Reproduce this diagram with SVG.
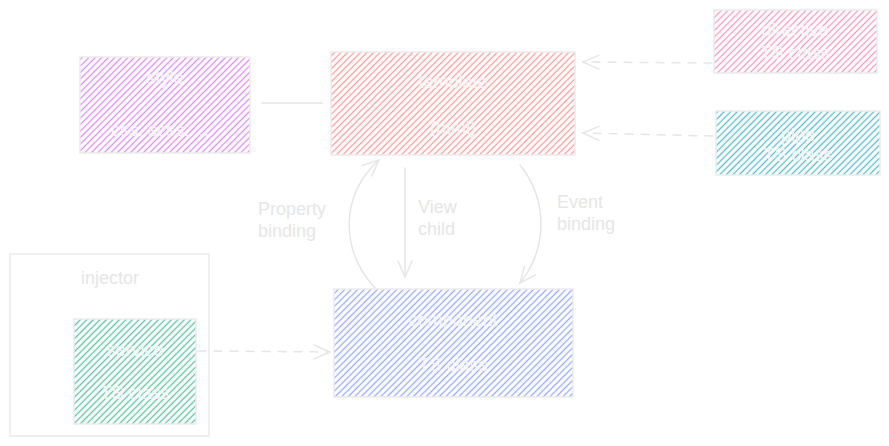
<svg xmlns="http://www.w3.org/2000/svg" width="889" height="446" viewBox="0 0 889 446">
<defs>
<pattern id="hPurple" width="4.6" height="4.6" patternUnits="userSpaceOnUse" patternTransform="rotate(45)"><line x1="2.3" y1="0" x2="2.3" y2="4.6" stroke="#dc8ef5" stroke-width="1.3"/></pattern>
<pattern id="hRed" width="4.6" height="4.6" patternUnits="userSpaceOnUse" patternTransform="rotate(45)"><line x1="2.3" y1="0" x2="2.3" y2="4.6" stroke="#ff9a9a" stroke-width="1.3"/></pattern>
<pattern id="hPink" width="4.6" height="4.6" patternUnits="userSpaceOnUse" patternTransform="rotate(45)"><line x1="2.3" y1="0" x2="2.3" y2="4.6" stroke="#f79bbd" stroke-width="1.3"/></pattern>
<pattern id="hTeal" width="4.6" height="4.6" patternUnits="userSpaceOnUse" patternTransform="rotate(45)"><line x1="2.3" y1="0" x2="2.3" y2="4.6" stroke="#5bbccb" stroke-width="1.3"/></pattern>
<pattern id="hBlue" width="4.6" height="4.6" patternUnits="userSpaceOnUse" patternTransform="rotate(45)"><line x1="2.3" y1="0" x2="2.3" y2="4.6" stroke="#97aaff" stroke-width="1.3"/></pattern>
<pattern id="hGreen" width="4.6" height="4.6" patternUnits="userSpaceOnUse" patternTransform="rotate(45)"><line x1="2.3" y1="0" x2="2.3" y2="4.6" stroke="#5cc29e" stroke-width="1.3"/></pattern>
<marker id="arr" viewBox="0 0 20 20" refX="18" refY="10" markerWidth="20" markerHeight="20" markerUnits="userSpaceOnUse" orient="auto"><path d="M2,3 L18,10 L2,17" fill="none" stroke="#e6e6e6" stroke-width="1.5" stroke-linecap="round"/></marker>
</defs>
<style>
.box{stroke:#ebebeb;stroke-width:1.5}
.lbl{font-family:"Liberation Sans",Arial,sans-serif;font-size:18px;fill:#f5f5f5;text-anchor:middle}
.edge{font-family:"Liberation Sans",Arial,sans-serif;font-size:18px;fill:#e6e6e6}
.con{fill:none;stroke:#e6e6e6;stroke-width:1.5;stroke-linecap:round}
.dash{stroke-dasharray:8 8}
</style>
<rect width="889" height="446" fill="#ffffff"/>
<g id="injector">
<rect x="10" y="254" width="199" height="182" fill="none" class="box"/>
<text x="110" y="284" class="edge" text-anchor="middle">injector</text>
</g>
<g id="style">
<rect x="80" y="57" width="170" height="96" fill="url(#hPurple)" class="box"/>
<text x="165" y="84" class="lbl">style</text>
<text x="160" y="136" class="lbl">css, scss, ...</text>
</g>
<g id="template">
<rect x="331" y="52" width="244" height="103" fill="url(#hRed)" class="box"/>
<text x="453" y="88" class="lbl">template</text>
<text x="453" y="134" class="lbl">(html)</text>
</g>
<g id="directive">
<rect x="714" y="10" width="163" height="63" fill="url(#hPink)" class="box"/>
<text x="795" y="36" class="lbl">directive</text>
<text x="795" y="59" class="lbl">TS class</text>
</g>
<g id="pipe">
<rect x="716" y="111" width="164" height="64" fill="url(#hTeal)" class="box"/>
<text x="798" y="141" class="lbl">pipe</text>
<text x="798" y="161" class="lbl">TS class</text>
</g>
<g id="component">
<rect x="334" y="289" width="239" height="108" fill="url(#hBlue)" class="box"/>
<text x="453" y="326" class="lbl">component</text>
<text x="453" y="371" class="lbl">TS class</text>
</g>
<g id="service">
<rect x="74" y="319" width="122" height="105" fill="url(#hGreen)" class="box"/>
<text x="135" y="356" class="lbl">service</text>
<text x="135" y="399" class="lbl">TS class</text>
</g>
<g id="connectors">
<line x1="262" y1="103" x2="322" y2="103" class="con"/>
<line x1="712" y1="63" x2="583" y2="62" class="con dash" marker-end="url(#arr)"/>
<line x1="713" y1="136" x2="583" y2="133" class="con dash" marker-end="url(#arr)"/>
<line x1="198" y1="351" x2="330" y2="352" class="con dash" marker-end="url(#arr)"/>
<path d="M375,288 C340,250 340,195 379,160" class="con" marker-end="url(#arr)"/>
<line x1="405" y1="168" x2="405" y2="277" class="con" marker-end="url(#arr)"/>
<path d="M520,165 C548,200 548,248 520,283" class="con" marker-end="url(#arr)"/>
<text x="258" y="215" class="edge">Property</text>
<text x="258" y="237" class="edge">binding</text>
<text x="418" y="213" class="edge">View</text>
<text x="418" y="235" class="edge">child</text>
<text x="557" y="208" class="edge">Event</text>
<text x="557" y="230" class="edge">binding</text>
</g>
</svg>
